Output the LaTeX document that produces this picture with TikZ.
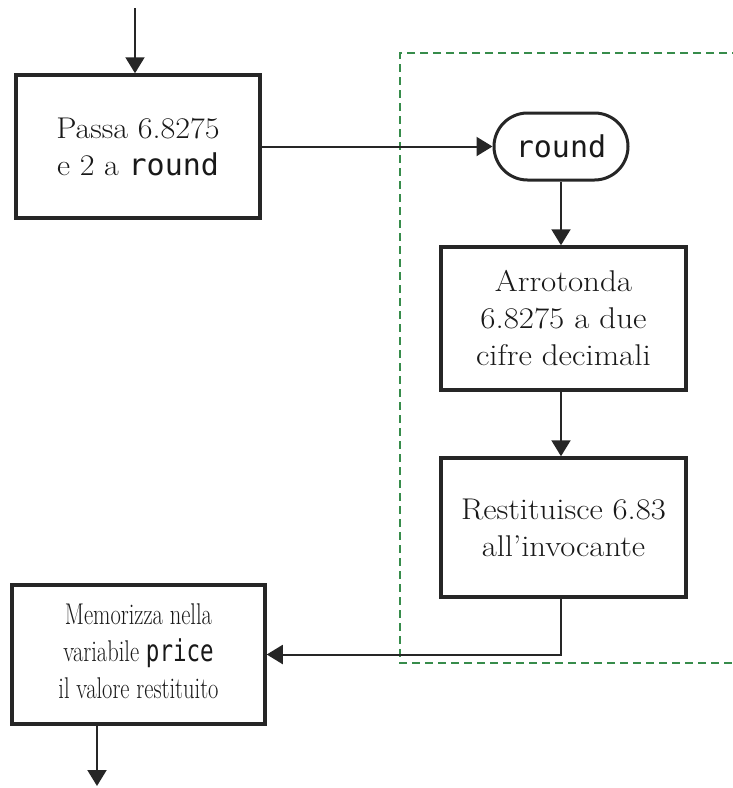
\documentclass[tikz,border=0pt]{standalone}
\usepackage{fontspec}
\usepackage{graphicx}
\setmonofont{DejaVu Sans Mono}
\newfontfamily\rmA[FakeStretch=1.07]{Latin Modern Roman}
\newfontfamily\rmB[FakeStretch=1.1]{Latin Modern Roman}
\newfontfamily\rmC[FakeStretch=1.09]{Latin Modern Roman}
\usetikzlibrary{arrows.meta,shapes.misc}
\begin{document}
\begin{tikzpicture}[x=1pt,y=-1pt,
  box/.style={draw=black!85, line width=3.5pt, fill=white, align=center, inner sep=0pt,
    font=\fontsize{30}{37}\selectfont, text=black!90},
  conn/.style={draw=black!85, line width=2pt},
  arr/.style={conn, -{Triangle[length=16pt,width=19pt]}},
  frame/.style={draw={rgb,255:red,55;green,140;blue,75}, line width=1.5pt, dash pattern=on 8pt off 5pt}
]
\useasboundingbox (0,0) rectangle (733,788);
\draw[frame] (740,53) -- (400,53) -- (400,663) -- (740,663);

\node[box, minimum width=244pt, minimum height=143pt] (b1) at (138,146.5)
  {\rmA Passa 6.8275\\\rmA e 2 a \texttt{round}};
\node[box, rounded rectangle, line width=3pt, minimum width=134pt, minimum height=67pt] (r) at (561,146.5)
  {\texttt{round}};
\node[box, minimum width=245pt, minimum height=143pt] (b2) at (563.5,318.5)
  {\rmB Arrotonda\\\rmB 6.8275 a due\\\rmB cifre decimali};
\node[box, minimum width=245pt, minimum height=139pt] (b3) at (563.5,527.5)
  {\rmC Restituisce 6.83\\\rmC all’invocante};
\node[box, minimum width=253pt, minimum height=139pt] (b4) at (138.5,654.5)
  {\scalebox{0.75}[1]{\begin{tabular}{@{}c@{}}Memorizza nella\\variabile \texttt{price}\\il valore restituito\end{tabular}}};

\coordinate (top) at (135,8);
\coordinate (bot) at (97,786);

\draw[arr] (top) -- (top |- b1.north);
\draw[arr] (b1.east) -- (r.west);
\draw[arr] (r.south) -- (r.south |- b2.north);
\draw[arr] (b2.south -| r.south) -- (r.south |- b3.north);
\draw[arr] (b3.south -| r.south) |- (b4.east);
\draw[arr] (b4.south -| bot) -- (bot);
\end{tikzpicture}
\end{document}
